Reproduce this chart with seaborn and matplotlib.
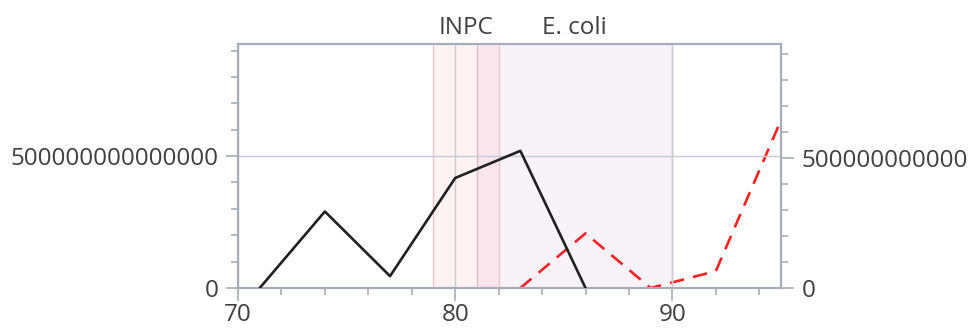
import matplotlib
matplotlib.use("Agg")
import matplotlib.pyplot as plt
from matplotlib.ticker import MultipleLocator, FuncFormatter
import seaborn as sns
import pandas as pd

# data
x_left = [71, 74, 77, 80, 83, 86]
y_left = [0, 2.9e14, 0.45e14, 4.17e14, 5.2e14, 0]
x_right = [83, 86, 89, 92, 95]
y_right = [0, 2.1e11, 0, 0.65e11, 6.45e11]
band_names = ["INPC", "E. coli"]
band_start = [79, 81]
band_end = [82, 90]

sns.set_theme(style="white")
plt.rcParams['font.family'] = ['Open Sans', 'DejaVu Sans']
text_col = '#404040'
axis_col = '#a7adb8'

fig = plt.figure(figsize=(9.7, 3.32), dpi=100)
ax = fig.add_axes([238 / 970, 44 / 332, (781 - 238) / 970, (288 - 44) / 332])
ax2 = ax.twinx()

# shaded bands
band_fill = [('#ff0000', 0.05), ('#8a269b', 0.06)]
band_edge = ['#f2c4cb', '#d8bcc8']
for name, s, e, (fc, a), ec in zip(band_names, band_start, band_end, band_fill, band_edge):
    ax.axvspan(s, e, facecolor=fc, alpha=a, lw=0, zorder=0)
    ax.axvline(s, color=ec, lw=1, zorder=0.5)
    ax.axvline(e, color=ec, lw=1, zorder=0.5)
    ax.text((s + e) / 2, 1.015, name, transform=ax.get_xaxis_transform(),
            ha='center', va='bottom', fontsize=17.5, color=text_col)

df_l = pd.DataFrame({'x': x_left, 'y': y_left})
df_r = pd.DataFrame({'x': x_right, 'y': y_right})
sns.lineplot(data=df_l, x='x', y='y', ax=ax, color='#202020', lw=1.9, zorder=3)
sns.lineplot(data=df_r, x='x', y='y', ax=ax2, color='#ff2020', lw=1.9,
             linestyle=(0, (5.5, 3.5)), zorder=3)

ax.set_xlim(70, 95)
ax.set_ylim(0, 9.25e14)
ax2.set_ylim(0, 9.38e11)

ax.xaxis.set_major_locator(MultipleLocator(10))
ax.xaxis.set_minor_locator(MultipleLocator(2))
ax.yaxis.set_major_locator(MultipleLocator(5e14))
ax.yaxis.set_minor_locator(MultipleLocator(1e14))
ax2.yaxis.set_major_locator(MultipleLocator(5e11))
ax2.yaxis.set_minor_locator(MultipleLocator(1e11))
fmt = FuncFormatter(lambda v, p: f"{int(round(v))}")
ax.yaxis.set_major_formatter(fmt)
ax2.yaxis.set_major_formatter(fmt)

ax.grid(True, which='major', color='#c8ccd2', lw=1, zorder=0.6)
for l in ax.get_xgridlines() + ax.get_ygridlines():
    l.set_zorder(0.6)

for a in (ax, ax2):
    a.set_xlabel('')
    a.set_ylabel('')
    for sp in a.spines.values():
        sp.set_color(axis_col)
        sp.set_linewidth(1.5)
    a.tick_params(which='major', length=9, width=1.2, color=axis_col,
                  labelsize=17.5, labelcolor=text_col, pad=4, direction='out')
    a.tick_params(which='minor', length=5, width=1.2, color=axis_col, direction='out')
ax.tick_params(axis='y', left=True, which='both', pad=5)
ax.tick_params(axis='x', bottom=True, which='both', pad=2)
ax2.tick_params(axis='y', right=True, which='both', pad=6)
ax.patch.set_visible(False)
ax2.set_zorder(ax.get_zorder() - 1)
ax.set_zorder(2)

fig.savefig('out.png', dpi=100)
